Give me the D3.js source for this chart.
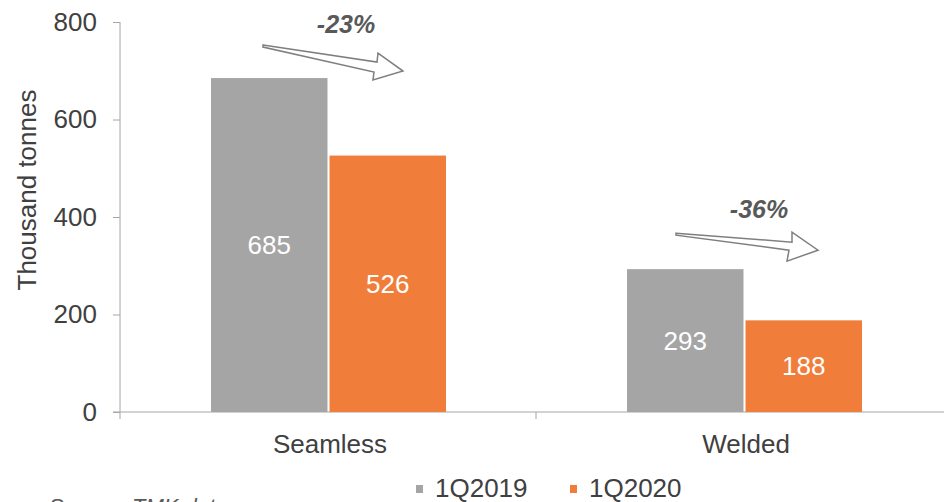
<!DOCTYPE html>
<html><head><meta charset="utf-8">
<script src="https://cdn.jsdelivr.net/npm/d3@7"></script>
<style>
html,body{margin:0;padding:0;background:#fff;}
svg{display:block;font-family:"Liberation Sans",Arial,sans-serif;}
</style></head>
<body>
<svg id="chart" width="944" height="502"></svg>
<script>
const categories = ["Seamless", "Welded"];
const seriesNames = ["1Q2019", "1Q2020"];
const values2019 = [685, 293];
const values2020 = [526, 188];
const changeLabels = ["-23%", "-36%"];
const yTicks = [0, 200, 400, 600, 800];
const colors = ["#a5a5a5", "#f07d3a"];

const svg = d3.select("#chart");
const W = 944, H = 502;
const plot = {left: 120, right: 952, top: 22, bottom: 412};

const x0 = d3.scaleBand().domain(categories).range([plot.left, plot.right]).paddingInner(0).paddingOuter(0);
const x1 = d3.scaleBand().domain(seriesNames).range([91, 326]).paddingInner(0.017);
const y = d3.scaleLinear().domain([0, 800]).range([plot.bottom, plot.top]);

const data = categories.map((c, i) => ({cat: c, vals: [values2019[i], values2020[i]]}));

// Y axis
const axisColor = "#a6a6a6";
const yAxis = svg.append("g").attr("transform", `translate(${plot.left},0)`)
  .call(d3.axisLeft(y).tickValues(yTicks).tickSize(7).tickPadding(16).tickFormat(d3.format("d")));
yAxis.select(".domain").attr("stroke", axisColor).attr("d", `M0,${plot.top}V${plot.bottom}`);
yAxis.selectAll(".tick line").attr("stroke", axisColor);
yAxis.selectAll(".tick text").attr("fill", "#404040").style("font-size", "26px")
  .style("font-family", "'Liberation Sans',Arial,sans-serif");

// X axis
const xAxis = svg.append("g").attr("transform", `translate(0,${plot.bottom})`);
xAxis.append("line").attr("x1", plot.left - 7).attr("x2", W).attr("y1", 0).attr("y2", 0).attr("stroke", axisColor);
const bounds = [plot.left, ...categories.map(c => x0(c) + x0.bandwidth())];
xAxis.selectAll("line.tk").data(bounds).enter().append("line").attr("class", "tk")
  .attr("x1", d => d).attr("x2", d => d).attr("y1", 0).attr("y2", 7).attr("stroke", axisColor);
xAxis.selectAll("text.cat").data(categories).enter().append("text").attr("class", "cat")
  .attr("x", d => x0(d) + x0.bandwidth() / 2 + 2).attr("y", 41)
  .attr("text-anchor", "middle").attr("fill", "#404040").style("font-size", "26px").text(d => d);

// Axis title
svg.append("text").attr("transform", "translate(36,190) rotate(-90)")
  .attr("text-anchor", "middle").attr("fill", "#404040").style("font-size", "26px").text("Thousand tonnes");

// Bars
const groups = svg.selectAll("g.grp").data(data).enter().append("g").attr("class", "grp")
  .attr("transform", d => `translate(${x0(d.cat)},0)`);
groups.selectAll("rect").data(d => d.vals.map((v, j) => ({v, s: seriesNames[j], j}))).enter().append("rect")
  .attr("x", d => x1(d.s)).attr("width", x1.bandwidth())
  .attr("y", d => y(d.v)).attr("height", d => y(0) - y(d.v))
  .attr("fill", d => colors[d.j]);
groups.selectAll("text.val").data(d => d.vals.map((v, j) => ({v, s: seriesNames[j], j}))).enter().append("text")
  .attr("class", "val")
  .attr("x", d => x1(d.s) + x1.bandwidth() / 2)
  .attr("y", d => (y(d.v) + y(0)) / 2 + 9)
  .attr("text-anchor", "middle").attr("fill", "#ffffff").style("font-size", "26px").text(d => d.v);

// Change annotations (arrow shape relative to group centre and gray bar top)
const arrowShapes = [
  [[-65, -33], [49, -16], [50, -25], [75, -7], [45, 2], [46, -6], [-65, -31]],
  [[-68, -36], [48, -27], [48, -37], [74, -19], [43, -8], [45, -19], [-68, -34]]
];
const labelOffsets = [[18, -45], [15, -51]];
data.forEach((d, i) => {
  const cx = x0(d.cat) + x0.bandwidth() / 2;
  const top = y(d.vals[0]);
  const pts = arrowShapes[i].map(p => [cx + p[0], top + p[1]]);
  svg.append("path").attr("d", d3.line()(pts) + "Z")
    .attr("fill", "#ffffff").attr("stroke", "#7f7f7f").attr("stroke-width", 1.5).attr("stroke-linejoin", "miter");
  svg.append("text").attr("x", cx + labelOffsets[i][0]).attr("y", top + labelOffsets[i][1])
    .attr("text-anchor", "middle").attr("fill", "#595959")
    .style("font-size", "25px").style("font-weight", "bold").style("font-style", "italic")
    .text(changeLabels[i]);
});

// Legend
const legend = svg.append("g").attr("transform", "translate(416,497)");
const legX = [0, 154];
seriesNames.forEach((s, j) => {
  const g = legend.append("g").attr("transform", `translate(${legX[j]},0)`);
  g.append("rect").attr("x", 0).attr("y", -12).attr("width", 7).attr("height", 8).attr("fill", colors[j]);
  g.append("text").attr("x", 19).attr("y", 0).attr("fill", "#404040").style("font-size", "26px").text(s);
});

// Source
const src = svg.append("text").attr("x", 50).attr("y", 514).attr("fill", "#595959").style("font-size", "22px");
src.append("tspan").text("Source: ");
src.append("tspan").style("font-style", "italic").text("TMK data");
</script>
</body></html>
